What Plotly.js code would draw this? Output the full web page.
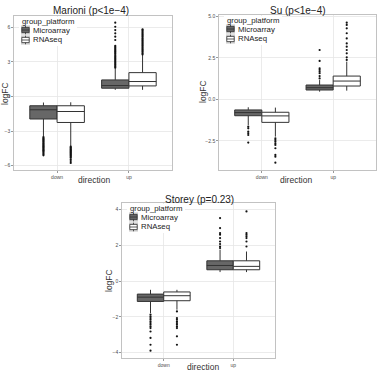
<!DOCTYPE html>
<html>
<head>
<meta charset="utf-8">
<script src="https://cdn.plot.ly/plotly-3.0.1.min.js"></script>
<style>
  html, body { margin: 0; padding: 0; background: #fff; }
  #chart { width: 378px; height: 373px; }
</style>
</head>
<body>
<div id="chart"></div>
<script>
// Categories and series
const directions = ['down', 'up'];
const platforms = ['Microarray', 'RNAseq'];
const studyTitles = ['Marioni (p<1e\u22124)', 'Su (p<1e\u22124)', 'Storey (p=0.23)'];
const legendTitle = 'group_platform';
const xTitle = 'direction';
const yTitle = 'logFC';

// Box statistics per study: [down, up] for each platform
// Marioni
const marioniMicroQ1 = [-1.95, 0.72];
const marioniMicroMed = [-1.15, 0.95];
const marioniMicroQ3 = [-0.80, 1.44];
const marioniMicroLo = [-3.46, 0.58];
const marioniMicroHi = [-0.52, 2.45];
const marioniRnaQ1 = [-2.25, 0.92];
const marioniRnaMed = [-1.30, 1.30];
const marioniRnaQ3 = [-0.80, 2.07];
const marioniRnaLo = [-4.30, 0.58];
const marioniRnaHi = [-0.50, 3.60];
const marioniMicroOutDown = [-3.52, -3.6, -3.68, -3.75, -3.82, -3.9, -3.97, -4.05, -4.12, -4.2, -4.28, -4.35, -4.42, -4.5, -4.58, -4.65, -4.72, -4.8, -4.9, -5.0, -5.1];
const marioniMicroOutUp = [2.5, 2.6, 2.7, 2.8, 2.9, 3.0, 3.1, 3.2, 3.3, 3.4, 3.5, 3.6, 3.7, 3.8, 3.9, 4.0, 4.1, 4.2, 4.3, 4.4, 4.9, 5.19, 5.48, 5.76, 6.05, 6.4];
const marioniRnaOutDown = [-4.35, -4.42, -4.5, -4.57, -4.64, -4.71, -4.78, -4.85, -4.92, -5.0, -5.07, -5.14, -5.22, -5.3, -5.45, -5.6, -5.76];
const marioniRnaOutUp = [3.65, 3.75, 3.85, 3.95, 4.05, 4.15, 4.25, 4.35, 4.45, 4.55, 4.65, 4.75, 4.85, 4.95, 5.05, 5.15, 5.25, 5.35, 5.45, 5.55, 5.65, 5.75, 5.83];

// Su
const suMicroQ1 = [-0.99, 0.56];
const suMicroMed = [-0.80, 0.70];
const suMicroQ3 = [-0.64, 0.86];
const suMicroLo = [-1.55, 0.46];
const suMicroHi = [-0.48, 1.16];
const suRnaQ1 = [-1.39, 0.80];
const suRnaMed = [-1.00, 1.10];
const suRnaQ3 = [-0.78, 1.40];
const suRnaLo = [-2.25, 0.52];
const suRnaHi = [-0.50, 2.27];
const suMicroOutDown = [-1.65, -1.75, -1.95, -2.05, -2.15, -2.61];
const suMicroOutUp = [1.26, 1.4, 1.57, 1.66, 1.77, 1.87, 2.31, 2.97];
const suRnaOutDown = [-2.35, -2.45, -2.55, -2.65, -2.75, -2.95, -3.35, -3.46, -3.82];
const suRnaOutUp = [2.37, 2.53, 2.77, 2.97, 3.17, 3.37, 3.67, 3.98, 4.28, 4.48, 4.62];

// Storey
const storeyMicroQ1 = [-1.14, 0.63];
const storeyMicroMed = [-0.90, 0.87];
const storeyMicroQ3 = [-0.73, 1.13];
const storeyMicroLo = [-1.79, 0.50];
const storeyMicroHi = [-0.49, 1.75];
const storeyRnaQ1 = [-1.10, 0.63];
const storeyRnaMed = [-0.82, 0.82];
const storeyRnaQ3 = [-0.61, 1.13];
const storeyRnaLo = [-1.60, 0.50];
const storeyRnaHi = [-0.49, 1.65];
const storeyMicroOutDown = [-1.88, -1.98, -2.07, -2.16, -2.26, -2.35, -2.44, -2.54, -2.63, -2.82, -3.18, -3.56, -3.89];
const storeyMicroOutUp = [1.84, 1.93, 2.07, 2.21, 2.4, 2.59, 2.68, 2.96, 3.52];
const storeyRnaOutDown = [-1.7, -2.07, -2.16, -2.26, -2.35, -2.44, -2.54, -2.63, -3.09, -3.56];
const storeyRnaOutUp = [1.93, 2.21, 2.4, 2.5, 2.59, 2.68, 3.89];

// Y tick values per panel
const marioniTicks = [-6, -3, 0, 3, 6];
const suTicks = [-2.5, 0, 2.5, 5];
const storeyTicks = [-4, -2, 0, 2, 4];

const studies = [
  {
    micro: {q1: marioniMicroQ1, med: marioniMicroMed, q3: marioniMicroQ3, lo: marioniMicroLo, hi: marioniMicroHi, out: [marioniMicroOutDown, marioniMicroOutUp]},
    rna: {q1: marioniRnaQ1, med: marioniRnaMed, q3: marioniRnaQ3, lo: marioniRnaLo, hi: marioniRnaHi, out: [marioniRnaOutDown, marioniRnaOutUp]},
    ticks: marioniTicks, fmt: 'd', range: [-6.37, 6.98]
  },
  {
    micro: {q1: suMicroQ1, med: suMicroMed, q3: suMicroQ3, lo: suMicroLo, hi: suMicroHi, out: [suMicroOutDown, suMicroOutUp]},
    rna: {q1: suRnaQ1, med: suRnaMed, q3: suRnaQ3, lo: suRnaLo, hi: suRnaHi, out: [suRnaOutDown, suRnaOutUp]},
    ticks: suTicks, fmt: '.1f', range: [-4.26, 5.08]
  },
  {
    micro: {q1: storeyMicroQ1, med: storeyMicroMed, q3: storeyMicroQ3, lo: storeyMicroLo, hi: storeyMicroHi, out: [storeyMicroOutDown, storeyMicroOutUp]},
    rna: {q1: storeyRnaQ1, med: storeyRnaMed, q3: storeyRnaQ3, lo: storeyRnaLo, hi: storeyRnaHi, out: [storeyRnaOutDown, storeyRnaOutUp]},
    ticks: storeyTicks, fmt: 'd', range: [-4.3, 4.36]
  }
];

// Page layout in pixels
const W = 378, H = 373;
// panel rectangles: [left, top, right, bottom]
const panelPx = [
  [14, 16, 172, 170],
  [219, 15, 376, 170],
  [122, 203, 275, 358]
];
// title centre, x-axis title centre, y-axis title centre
const titlePx = [[91, 10.5], [298, 10.5], [199, 199]];
const xTitlePx = [[94, 179.5], [296, 180], [203, 367]];
const yTitlePx = [[5, 94], [203, 92], [109, 281]];

const boxW = 0.38;           // width of one dodged box, in category units
const fills = ['#676767', '#ffffff'];
const lineCol = '#333333';
const font = 'Liberation Sans, Arial, sans-serif';

const px = v => v / W;
const py = v => 1 - v / H;

const traces = [];
const shapes = [];
const annotations = [];
const layout = {
  width: W, height: H,
  margin: {l: 0, r: 0, t: 0, b: 0},
  paper_bgcolor: '#fff',
  plot_bgcolor: '#fff',
  showlegend: false,
  boxmode: 'overlay',
  font: {family: font, color: '#333'},
  shapes: shapes,
  annotations: annotations
};

studies.forEach((s, k) => {
  const n = k === 0 ? '' : String(k + 1);
  const xa = 'x' + n, ya = 'y' + n;
  const catPos = directions.map((d, i) => i + 1);

  [s.micro, s.rna].forEach((g, p) => {
    const offset = (p === 0 ? -1 : 1) * boxW / 2;
    const xs = catPos.map(c => c + offset);
    traces.push({
      type: 'box',
      name: platforms[p],
      xaxis: xa, yaxis: ya,
      x: xs,
      q1: g.q1, median: g.med, q3: g.q3,
      lowerfence: g.lo, upperfence: g.hi,
      width: boxW,
      whiskerwidth: 0,
      fillcolor: fills[p],
      line: {color: lineCol, width: 1},
      hoverinfo: 'skip'
    });
    // outlier points
    const ox = [], oy = [];
    g.out.forEach((vals, i) => vals.forEach(v => { ox.push(xs[i]); oy.push(v); }));
    traces.push({
      type: 'scatter', mode: 'markers',
      xaxis: xa, yaxis: ya,
      x: ox, y: oy,
      marker: {color: '#111', size: 2.2},
      hoverinfo: 'skip'
    });
  });

  const [l, t, r, b] = panelPx[k];

  const axisCommon = {
    tickfont: {size: 5, color: '#4d4d4d'},
    ticks: 'outside', ticklen: 2, tickcolor: '#555', tickwidth: 0.6,
    showgrid: true, gridcolor: '#e6e6e6', gridwidth: 0.8,
    zeroline: false, automargin: false,
    showline: true, mirror: true, linecolor: '#b3b3b3', linewidth: 0.8
  };
  layout['xaxis' + n] = Object.assign({
    domain: [px(l), px(r)], anchor: ya,
    range: [0.4, 2.6],
    tickvals: catPos, ticktext: directions
  }, axisCommon);
  layout['yaxis' + n] = Object.assign({
    domain: [py(b), py(t)], anchor: xa,
    range: s.range,
    tickvals: s.ticks,
    tickformat: s.fmt
  }, axisCommon);

  // panel title and axis titles
  annotations.push({
    text: studyTitles[k], xref: 'paper', yref: 'paper',
    x: px(titlePx[k][0]), y: py(titlePx[k][1]),
    xanchor: 'center', yanchor: 'middle', showarrow: false,
    font: {size: 10, color: '#222', family: font}
  });
  annotations.push({
    text: xTitle, xref: 'paper', yref: 'paper',
    x: px(xTitlePx[k][0]), y: py(xTitlePx[k][1]),
    xanchor: 'center', yanchor: 'middle', showarrow: false,
    font: {size: 8.5, color: '#333', family: font}
  });
  annotations.push({
    text: yTitle, xref: 'paper', yref: 'paper', textangle: -90,
    x: px(yTitlePx[k][0]), y: py(yTitlePx[k][1]),
    xanchor: 'center', yanchor: 'middle', showarrow: false,
    font: {size: 8.5, color: '#333', family: font}
  });

  // legend: white panel, title, and a key per platform
  const lx = l + 5, ly = t + 1;
  shapes.push({
    type: 'rect', xref: 'paper', yref: 'paper', layer: 'above',
    x0: px(lx), x1: px(lx + 58), y0: py(ly + 29), y1: py(ly),
    fillcolor: '#fff', line: {width: 0}
  });
  annotations.push({
    text: legendTitle, xref: 'paper', yref: 'paper',
    x: px(lx + 1), y: py(t + 5.5),
    xanchor: 'left', yanchor: 'middle', showarrow: false,
    font: {size: 7.8, color: '#222', family: font}
  });
  platforms.forEach((name, p) => {
    const cy = t + 14 + p * 10;
    const kx0 = lx + 2, kx1 = lx + 11;
    // grey key background
    shapes.push({
      type: 'rect', xref: 'paper', yref: 'paper', layer: 'above',
      x0: px(kx0), x1: px(kx1), y0: py(cy + 4.6), y1: py(cy - 4.6),
      fillcolor: '#cfcfcf', line: {width: 0}
    });
    const cx = (kx0 + kx1) / 2;
    // whisker
    shapes.push({
      type: 'line', xref: 'paper', yref: 'paper', layer: 'above',
      x0: px(cx), x1: px(cx), y0: py(cy + 4.3), y1: py(cy - 4.3),
      line: {color: lineCol, width: 0.8}
    });
    // box
    shapes.push({
      type: 'rect', xref: 'paper', yref: 'paper', layer: 'above',
      x0: px(kx0 + 0.8), x1: px(kx1 - 0.8), y0: py(cy + 2.6), y1: py(cy - 2.6),
      fillcolor: fills[p], line: {color: lineCol, width: 0.8}
    });
    // median
    shapes.push({
      type: 'line', xref: 'paper', yref: 'paper', layer: 'above',
      x0: px(kx0 + 0.8), x1: px(kx1 - 0.8), y0: py(cy), y1: py(cy),
      line: {color: lineCol, width: 0.8}
    });
    annotations.push({
      text: name, xref: 'paper', yref: 'paper',
      x: px(kx1 + 0.5), y: py(cy),
      xanchor: 'left', yanchor: 'middle', showarrow: false,
      font: {size: 7.8, color: '#222', family: font}
    });
  });
});

Plotly.newPlot('chart', traces, layout, {displayModeBar: false, staticPlot: true});
</script>
</body>
</html>
